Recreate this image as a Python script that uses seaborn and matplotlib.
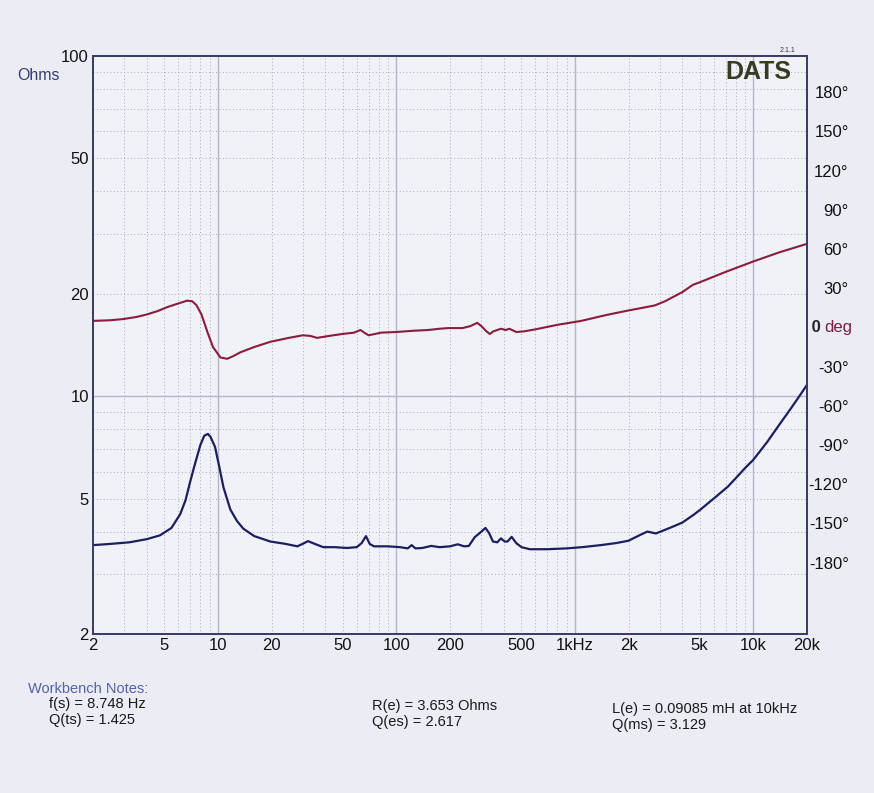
import numpy as np
import pandas as pd
import matplotlib
matplotlib.use("Agg")
import matplotlib.pyplot as plt
import seaborn as sns

# ---------------- data ----------------
imp_freq = [2, 2.5, 3.2, 4, 4.75, 5.5, 6.16, 6.6, 7.0, 7.5, 8.0, 8.4, 8.8, 9.1, 9.65,
            10.2, 10.76, 11.75, 12.8, 13.9, 16, 19.7, 24, 27.9, 30.5, 32, 35, 39, 45,
            53, 60, 64, 67.6, 71, 75, 90, 105, 116, 122, 128, 140, 157, 175, 200, 221,
            240, 255, 275, 300, 316, 332, 348, 368, 386, 405, 420, 443, 470, 503, 560,
            700, 900, 1100, 1400, 1700, 2000, 2300, 2550, 2850, 3100, 3600, 4000, 4600,
            5000, 6000, 7200, 8000, 9000, 10000, 12000, 14000, 16000, 18000, 20000]
imp_ohms = [3.65, 3.68, 3.72, 3.8, 3.9, 4.1, 4.5, 4.95, 5.6, 6.4, 7.2, 7.65, 7.75, 7.6, 7.1,
            6.2, 5.4, 4.65, 4.3, 4.08, 3.88, 3.74, 3.68, 3.62, 3.7, 3.75, 3.68, 3.6, 3.6,
            3.58, 3.6, 3.7, 3.88, 3.68, 3.62, 3.62, 3.6, 3.57, 3.65, 3.57, 3.58, 3.63, 3.6, 3.62, 3.67,
            3.62, 3.63, 3.85, 4.0, 4.1, 3.95, 3.74, 3.72, 3.82, 3.74, 3.74, 3.86, 3.7, 3.6, 3.55,
            3.55, 3.57, 3.6, 3.65, 3.7, 3.76, 3.9, 4.0, 3.95, 4.02, 4.15, 4.25, 4.47,
            4.62, 5.0, 5.42, 5.75, 6.15, 6.5, 7.35, 8.25, 9.1, 9.95, 10.8]

ph_freq = [2, 2.5, 2.95, 3.5, 4.02, 4.6, 5.2, 5.9, 6.74, 7.2, 7.6, 8.1, 8.75, 9.4, 10.35,
           11.3, 12.2, 13.4, 16, 19.7, 25, 30, 33, 36, 42, 50, 58, 63, 67, 70, 76, 82,
           100, 126, 150, 175, 196, 235, 260, 284, 300, 320, 334, 350, 386, 410, 430, 470,
           520, 600, 800, 1087, 1500, 2000, 2500, 2800, 3200, 4000, 4600, 5000, 7000,
           10000, 14000, 20000]
ph_deg = [5, 5.5, 6.4, 8, 10, 12.5, 15.5, 18, 20.5, 20, 17, 10, -3.5, -15, -23,
          -24, -22, -19, -15, -11, -8, -6, -6.5, -8, -6.5, -5, -4, -2, -4.5, -6, -5, -4,
          -3.5, -2.5, -2, -1, -0.5, -0.5, 1, 3.5, 1, -3, -5, -3, -1, -2, -1, -3.5,
          -3, -1.5, 2, 5, 9.5, 13, 15.5, 16.8, 20, 27, 32.7, 34.5, 42.5,
          50.5, 57.5, 64]

x_major = [10, 100, 1000, 10000]
x_major_labels = ["10", "100", "1kHz", "10k"]
x_minor = [m * d for d in [1, 10, 100, 1000] for m in range(2, 10)] + [20000]
x_minor_labels = {2: "2", 5: "5", 20: "20", 50: "50", 200: "200", 500: "500",
                  2000: "2k", 5000: "5k", 20000: "20k"}
y_major = [10]
y_minor = [2, 3, 4, 5, 6, 7, 8, 9, 20, 30, 40, 50, 60, 70, 80, 90, 100]
y_minor_labels = {2: "2", 5: "5", 20: "20", 50: "50", 100: "100"}
ph_ticks = [180, 150, 120, 90, 60, 30, 0, -30, -60, -90, -120, -150, -180]

notes_left = ["f(s) = 8.748 Hz", "Q(ts) = 1.425"]
notes_mid = ["R(e) = 3.653 Ohms", "Q(es) = 2.617"]
notes_right = ["L(e) = 0.09085 mH at 10kHz", "Q(ms) = 3.129"]

# ---------------- style ----------------
sns.set_theme(style="white")
plt.rcParams["font.family"] = ["Liberation Sans", "DejaVu Sans"]

W, H = 874, 793
BG = "#ecedf4"
fig = plt.figure(figsize=(W / 100, H / 100), dpi=100, facecolor=BG)

L, R, T, B = 93, 807, 56, 634
ax = fig.add_axes([L / W, 1 - B / H, (R - L) / W, (B - T) / H])
ax.set_facecolor("#f1f1f8")
ax2 = ax.twinx()

df_imp = pd.DataFrame({"freq": imp_freq, "ohms": imp_ohms})
df_ph = pd.DataFrame({"freq": ph_freq, "deg": ph_deg})

sns.lineplot(data=df_imp, x="freq", y="ohms", ax=ax, color="#1c1f5e",
             linewidth=1.6, estimator=None, sort=False, legend=False)
sns.lineplot(data=df_ph, x="freq", y="deg", ax=ax2, color="#8a1c3c",
             linewidth=1.5, estimator=None, sort=False, legend=False)

ax.set_xscale("log")
ax.set_yscale("log")
ax.set_xlim(2, 20000)
ax.set_ylim(2, 100)
ax2.set_ylim(-234.7, 207.8)

ax.set_xticks(x_major, labels=x_major_labels)
ax.set_xticks(x_minor, labels=[x_minor_labels.get(v, "") for v in x_minor], minor=True)
ax.set_yticks(y_major, labels=["10"])
ax.set_yticks(y_minor, labels=[y_minor_labels.get(v, "") for v in y_minor], minor=True)

ax.grid(which="major", color="#b3b6c9", linewidth=1.0, linestyle="-")
ax.grid(which="minor", color="#a9abba", linewidth=0.7, linestyle=(0, (1, 2.5)))
ax.tick_params(axis="both", which="both", length=0, labelsize=12, colors="#111111")
ax.tick_params(axis="x", which="both", pad=3)
ax.tick_params(axis="y", which="both", pad=3)
ax.set_xlabel("")
ax.set_ylabel("")
for s in ax.spines.values():
    s.set_color("#3a3d66")
    s.set_linewidth(1.3)

ax2.set_yticks(ph_ticks, labels=["" if v == 0 else f"{v}°" for v in ph_ticks])
ax2.tick_params(axis="y", length=0, pad=30, labelsize=12, colors="#111111")
for lab in ax2.get_yticklabels():
    lab.set_horizontalalignment("right")
ax2.set_ylabel("")
ax2.set_xlabel("")
ax2.grid(False)
for s in ax2.spines.values():
    s.set_color("#3a3d66")
    s.set_linewidth(1.3)

# 0 deg marker label
ax2.text(1.0, 0, " 0", transform=ax2.get_yaxis_transform(), ha="left", va="center",
         fontsize=12, fontweight="bold", color="#222222")
ax2.text(1.0 + 17 / (R - L), 0, "deg", transform=ax2.get_yaxis_transform(), ha="left",
         va="center", fontsize=12, color="#7a2040")

# annotations
def ft(x, y, s, **kw):
    fig.text(x / W, 1 - y / H, s, **kw)

ft(17, 75, "Ohms", fontsize=11.5, color="#363c78", va="center", ha="left")
ft(758, 72, "DATS", fontsize=18, fontweight="bold", color="#343c24", va="center", ha="center")
ft(787, 51, "2.1.1", fontsize=5, color="#333333", va="center", ha="center")

ft(28, 689, "Workbench Notes:", fontsize=10.5, color="#5262a6", va="center", ha="left")
ft(49, 704, notes_left[0], fontsize=10.5, color="#1a1a1a", va="center")
ft(49, 720, notes_left[1], fontsize=10.5, color="#1a1a1a", va="center")
ft(372, 706, notes_mid[0], fontsize=10.5, color="#1a1a1a", va="center")
ft(372, 722, notes_mid[1], fontsize=10.5, color="#1a1a1a", va="center")
ft(612, 709, notes_right[0], fontsize=10.5, color="#1a1a1a", va="center")
ft(612, 725, notes_right[1], fontsize=10.5, color="#1a1a1a", va="center")

fig.savefig("out.png", dpi=100, facecolor=BG)
